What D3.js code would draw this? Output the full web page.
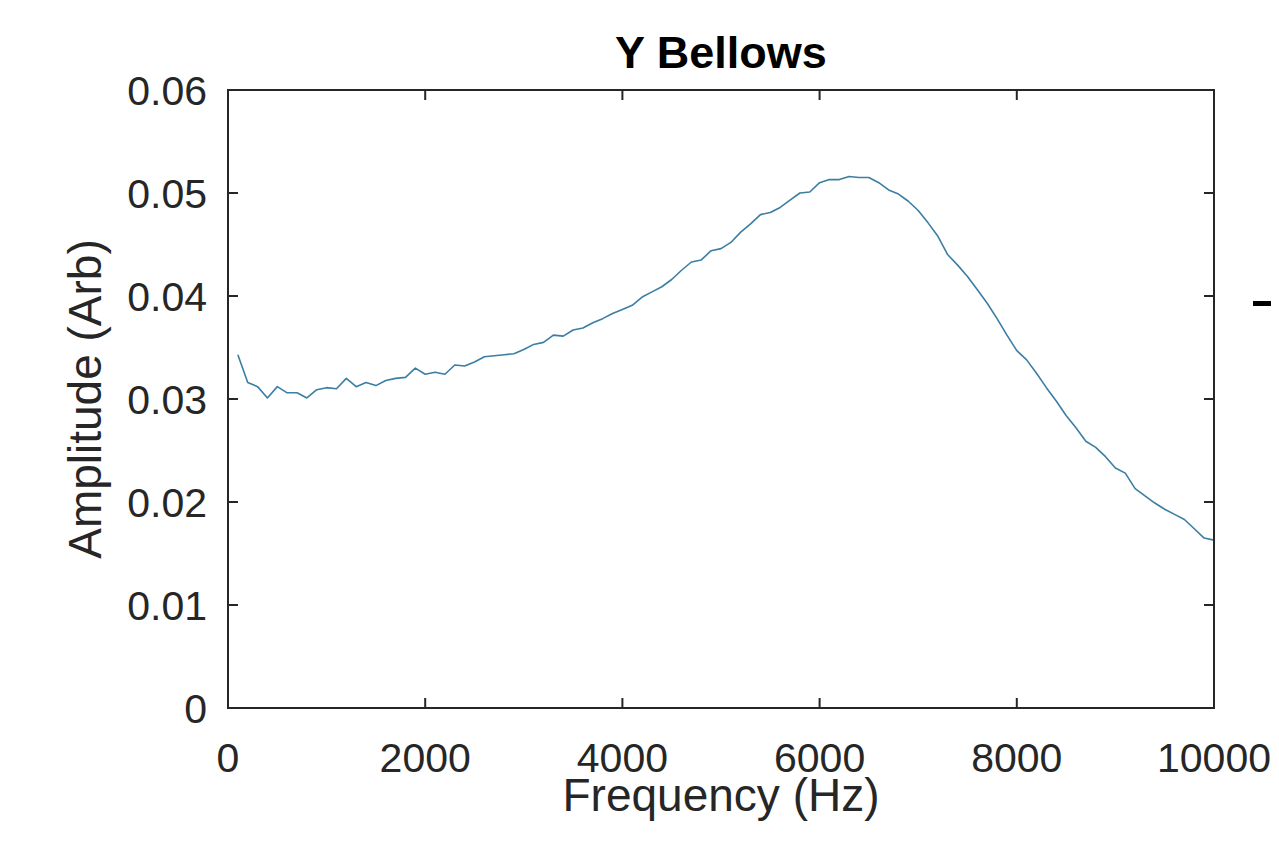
<!DOCTYPE html>
<html lang="en">
<head>
    <meta charset="UTF-8">
    <title>Y Bellows</title>
    <style>
        body { margin: 0; background: #fff; }
        svg { display: block; font-family: "Liberation Sans", Arial, Helvetica, sans-serif; }
        .tick-label { fill: #262626; font-size: 41px; }
        .axis-label { fill: #262626; font-size: 46px; }
        .title { fill: #000; font-size: 45px; font-weight: bold; }
    </style>
</head>
<body>
    <div id="chart"></div>

    <script src="https://d3js.org/d3.v7.min.js"></script>
    <script>
        const frequency = d3.range(100, 10001, 100);
        const amplitude = [
            0.0343, 0.0316, 0.0312, 0.0301, 0.0312, 0.0306, 0.0306, 0.0301, 0.0309, 0.0311,
            0.0310, 0.0320, 0.0312, 0.0316, 0.0313, 0.0318, 0.0320, 0.0321, 0.0330, 0.0324,
            0.0326, 0.0324, 0.0333, 0.0332, 0.0336, 0.0341, 0.0342, 0.0343, 0.0344, 0.0348,
            0.0353, 0.0355, 0.0362, 0.0361, 0.0367, 0.0369, 0.0374, 0.0378, 0.0383, 0.0387,
            0.0391, 0.0399, 0.0404, 0.0409, 0.0416, 0.0425, 0.0433, 0.0435, 0.0444, 0.0446,
            0.0452, 0.0462, 0.0470, 0.0479, 0.0481, 0.0486, 0.0493, 0.0500, 0.0501, 0.0510,
            0.0513, 0.0513, 0.0516, 0.0515, 0.0515, 0.0510, 0.0503, 0.0499, 0.0492, 0.0483,
            0.0471, 0.0458, 0.0440, 0.0430, 0.0419, 0.0406, 0.0393, 0.0378, 0.0362, 0.0347,
            0.0338, 0.0325, 0.0311, 0.0298, 0.0284, 0.0272, 0.0259, 0.0253, 0.0244, 0.0233,
            0.0228, 0.0213, 0.0206, 0.0199, 0.0193, 0.0188, 0.0183, 0.0174, 0.0165, 0.0163
        ];
        const xTicks = [0, 2000, 4000, 6000, 8000, 10000];
        const yTicks = [0, 0.01, 0.02, 0.03, 0.04, 0.05, 0.06];

        const width = 1279;
        const height = 856;
        const margin = { top: 90, right: 65, bottom: 148, left: 228 };
        const innerW = width - margin.left - margin.right;
        const innerH = height - margin.top - margin.bottom;

        const svg = d3.select("#chart").append("svg")
            .attr("width", width)
            .attr("height", height);

        const g = svg.append("g")
            .attr("transform", `translate(${margin.left},${margin.top})`);

        const x = d3.scaleLinear().domain([0, 10000]).range([0, innerW]);
        const y = d3.scaleLinear().domain([0, 0.06]).range([innerH, 0]);

        // data line
        const line = d3.line()
            .x((d, i) => x(frequency[i]))
            .y(d => y(d));

        g.append("path")
            .datum(amplitude)
            .attr("fill", "none")
            .attr("stroke", "#3a7ea3")
            .attr("stroke-width", 1.6)
            .attr("stroke-linejoin", "round")
            .attr("d", line);

        // axes, MATLAB style box with inward ticks on all sides
        const tickLen = 10;
        const axisColor = "#262626";

        g.append("rect")
            .attr("width", innerW)
            .attr("height", innerH)
            .attr("fill", "none")
            .attr("stroke", axisColor)
            .attr("stroke-width", 2);

        g.selectAll(".xtick")
            .data(xTicks)
            .enter()
            .append("path")
            .attr("stroke", axisColor)
            .attr("stroke-width", 2)
            .attr("d", d => `M${x(d)},${innerH}v${-tickLen}M${x(d)},0v${tickLen}`);

        g.selectAll(".ytick")
            .data(yTicks)
            .enter()
            .append("path")
            .attr("stroke", axisColor)
            .attr("stroke-width", 2)
            .attr("d", d => `M0,${y(d)}h${tickLen}M${innerW},${y(d)}h${-tickLen}`);

        g.selectAll(".xlabel")
            .data(xTicks)
            .enter()
            .append("text")
            .attr("class", "tick-label")
            .attr("x", d => x(d))
            .attr("y", innerH + 64)
            .attr("text-anchor", "middle")
            .text(d => d);

        g.selectAll(".ylabel")
            .data(yTicks)
            .enter()
            .append("text")
            .attr("class", "tick-label")
            .attr("x", -21)
            .attr("y", d => y(d))
            .attr("dy", "0.36em")
            .attr("text-anchor", "end")
            .text(d => d === 0 ? "0" : d.toFixed(2));

        // titles
        g.append("text")
            .attr("class", "title")
            .attr("x", innerW / 2)
            .attr("y", -22)
            .attr("text-anchor", "middle")
            .text("Y Bellows");

        g.append("text")
            .attr("class", "axis-label")
            .attr("x", innerW / 2)
            .attr("y", innerH + 103)
            .attr("text-anchor", "middle")
            .text("Frequency (Hz)");

        g.append("text")
            .attr("class", "axis-label")
            .attr("transform", `translate(${-127},${innerH / 2}) rotate(-90)`)
            .attr("text-anchor", "middle")
            .text("Amplitude (Arb)");

        // stray dash to the right of the axes (part of the original figure)
        svg.append("rect")
            .attr("x", margin.left + innerW + 39)
            .attr("y", margin.top + y(0.04) + 5)
            .attr("width", 18)
            .attr("height", 5)
            .attr("fill", "#000");
    </script>
</body>
</html>
